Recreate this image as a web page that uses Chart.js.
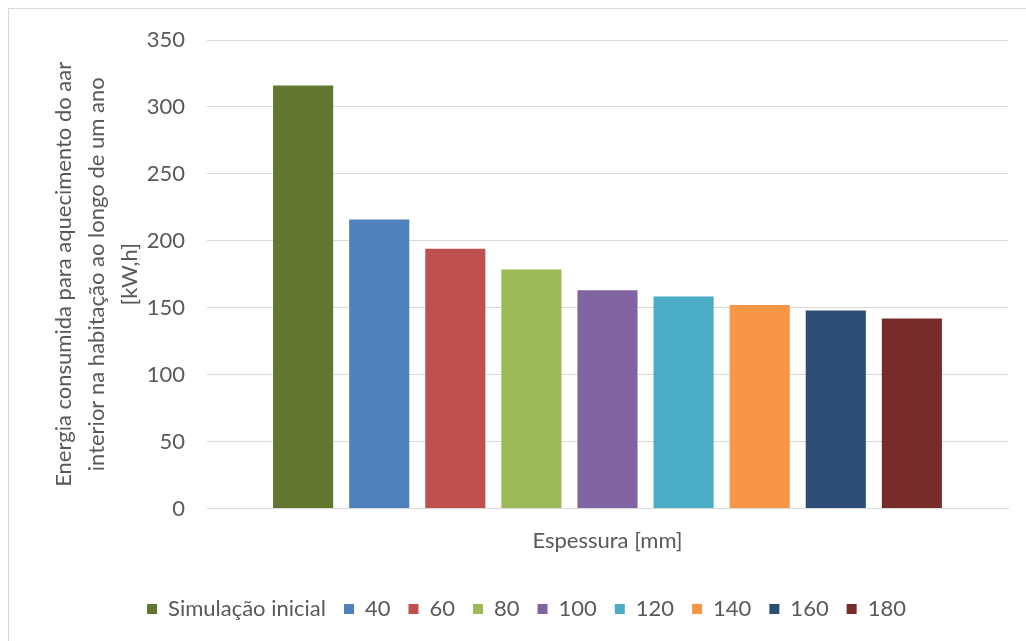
<!DOCTYPE html>
<html>
<head>
<meta charset="utf-8">
<script src="https://cdn.jsdelivr.net/npm/chart.js@4"></script>
<style>
    body { margin: 0; background: #fff; }
    #frame { position: absolute; left: 8px; top: 8px; width: 1040px; height: 660px; border: 1px solid #d9d9d9; }
    #wrap { position: absolute; left: 0; top: 0; width: 1026px; height: 641px; }
</style>
</head>
<body>
<div id="frame"></div>
<div id="wrap"><canvas id="chart" width="1026" height="641"></canvas></div>
<script>
// chart data
const categories = [""];
const seriesNames = ["Simulação inicial", "40", "60", "80", "100", "120", "140", "160", "180"];
const seriesValues = [316, 216, 194, 178.5, 163, 158.5, 152, 148, 142];
const seriesColors = ["#62762f", "#4f81bd", "#c0504d", "#9bbb59", "#8064a2", "#4bacc6", "#f79646", "#2c4d75", "#772c2a"];
const yTickMin = 0;
const yTickMax = 350;
const yTickStep = 50;

const yTitle = [
    "Energia consumida para aquecimento do aar",
    "interior na habitação ao longo de um ano",
    "[kW,h]"
];
const xTitle = "Espessura [mm]";

const font = "Lato, 'Open Sans', sans-serif";
const textColor = "#595959";
const gridColor = "#d9d9d9";

const datasets = seriesNames.map((name, i) => ({
    label: name,
    data: [seriesValues[i]],
    backgroundColor: seriesColors[i],
    borderWidth: 0,
    categoryPercentage: 0.855,
    barPercentage: 0.79
}));

new Chart(document.getElementById("chart").getContext("2d"), {
    type: "bar",
    data: { labels: categories, datasets: datasets },
    options: {
        responsive: false,
        animation: false,
        layout: { padding: { left: 45, right: 18, top: 40, bottom: 11 } },
        plugins: {
            tooltip: { enabled: false },
            legend: {
                position: "bottom",
                labels: {
                    boxWidth: 10,
                    boxHeight: 10,
                    padding: 18,
                    color: textColor,
                    font: { family: font, size: 22 }
                }
            }
        },
        scales: {
            x: {
                grid: { display: false, drawTicks: false },
                border: { color: gridColor },
                ticks: { display: false },
                title: {
                    display: true,
                    text: xTitle,
                    color: textColor,
                    font: { family: font, size: 22 },
                    padding: { top: 19, bottom: 26 }
                }
            },
            y: {
                min: yTickMin,
                max: yTickMax,
                afterFit: (axis) => { axis.width = 162; },
                grid: { color: gridColor, drawTicks: false },
                border: { display: false },
                ticks: {
                    stepSize: yTickStep,
                    padding: 22,
                    color: textColor,
                    font: { family: font, size: 22 }
                },
                title: {
                    display: true,
                    text: yTitle,
                    color: textColor,
                    font: { family: font, size: 22, lineHeight: 1.5 },
                    padding: 2
                }
            }
        }
    }
});
</script>
</body>
</html>
